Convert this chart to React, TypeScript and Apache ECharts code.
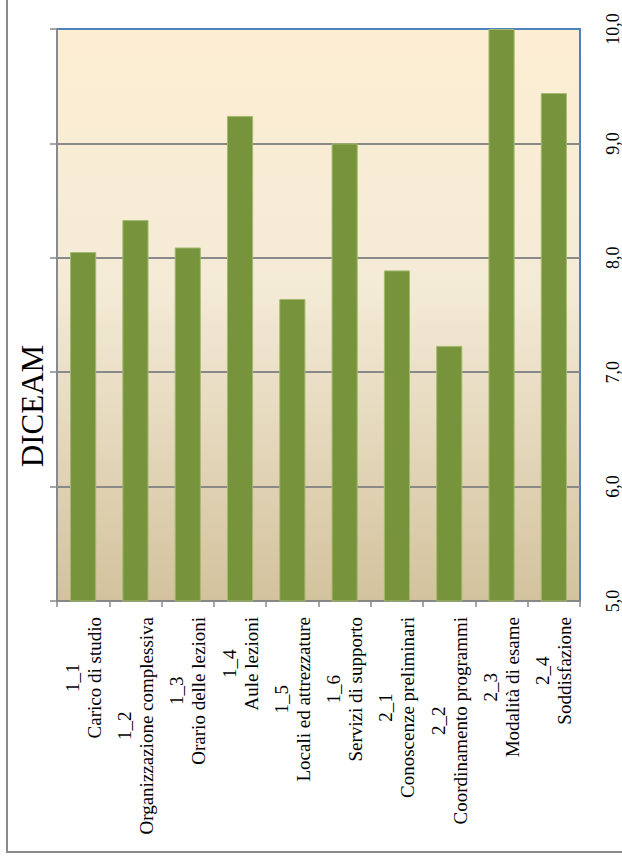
import React, { useEffect, useRef } from "react";
import * as echarts from "echarts";

const codes = ["1_1", "1_2", "1_3", "1_4", "1_5", "1_6", "2_1", "2_2", "2_3", "2_4"];
const names = [
  "Carico di studio",
  "Organizzazione complessiva",
  "Orario delle lezioni",
  "Aule lezioni",
  "Locali ed attrezzature",
  "Servizi di supporto",
  "Conoscenze preliminari",
  "Coordinamento programmi",
  "Modalità di esame",
  "Soddisfazione",
];
const values = [8.05, 8.33, 8.09, 9.24, 7.64, 9.0, 7.89, 7.23, 10.0, 9.44];
const title = "DICEAM";

const LABEL_FONT = '"Liberation Serif", "DejaVu Serif", serif';

export default function App() {
  const ref = useRef<HTMLDivElement>(null);
  useEffect(() => {
    if (!ref.current) return;
    const chart = echarts.init(ref.current, null, { renderer: "svg" });
    const categories = codes.map((c, i) => c + "\n" + names[i]);
    chart.setOption({
      animation: false,
      backgroundColor: "#ffffff",
      grid: {
        left: 57,
        right: 42,
        top: 29,
        bottom: 262,
        show: true,
        borderColor: "#4F81BD",
        borderWidth: 2,
        backgroundColor: new echarts.graphic.LinearGradient(0, 0, 0, 1, [
          { offset: 0, color: "#FDEED2" },
          { offset: 0.45, color: "#F4EBD7" },
          { offset: 1, color: "#D3C29D" },
        ]),
      },
      xAxis: {
        type: "category",
        data: categories,
        boundaryGap: true,
        axisLine: { show: true, lineStyle: { color: "#878787", width: 2 } },
        axisTick: { show: true, length: 6, lineStyle: { color: "#878787", width: 1.5 } },
        axisLabel: {
          interval: 0,
          rotate: 90,
          margin: 16,
          formatter: (v: string) => {
            const parts = v.split("\n");
            return "{a|" + parts[0] + "}\n{a|" + parts[1] + "}";
          },
          rich: {
            a: {
              align: "center",
              fontFamily: LABEL_FONT,
              fontSize: 19,
              lineHeight: 22,
              color: "#000000",
            },
          },
        },
        splitLine: { show: false },
      },
      yAxis: [
        {
          type: "value",
          position: "left",
          min: 5,
          max: 10,
          interval: 1,
          axisLine: { show: true, lineStyle: { color: "#878A90", width: 2 } },
          axisTick: { show: true, inside: false, length: 7, lineStyle: { color: "#878787", width: 1.5 } },
          axisLabel: { show: false },
          splitLine: {
            show: true,
            showMinLine: false,
            showMaxLine: false,
            lineStyle: { color: "#898989", width: 1.8 },
          },
        },
        {
          type: "value",
          position: "right",
          min: 5,
          max: 10,
          interval: 1,
          axisLine: { show: false },
          axisTick: { show: false },
          splitLine: { show: false },
          axisLabel: {
            rotate: 90,
            margin: 24,
            fontFamily: LABEL_FONT,
            fontSize: 18,
            color: "#000000",
            formatter: (v: number) => v.toFixed(1).replace(".", ","),
          },
        },
      ],
      series: [
        {
          type: "bar",
          yAxisIndex: 0,
          data: values,
          barWidth: "50%",
          itemStyle: {
            color: "#77933C",
            borderColor: "#A3BA6E",
            borderWidth: 1,
          },
          silent: true,
        },
      ],
      graphic: [
        {
          type: "polyline",
          silent: true,
          shape: { points: [[7, 0], [7, 852], [622, 852]] },
          style: { stroke: "#8A8A8A", lineWidth: 2, fill: null },
        },
        {
          type: "text",
          x: 32,
          y: 406,
          rotation: Math.PI / 2,
          style: {
            text: title,
            font: '31px "Liberation Serif", serif',
            fill: "#000000",
            align: "center",
            verticalAlign: "middle",
          },
        },
      ],
    });
    return () => chart.dispose();
  }, []);
  return (
    <div
      ref={ref}
      style={{ position: "absolute", left: 0, top: 0, width: 622, height: 863 }}
    />
  );
}
